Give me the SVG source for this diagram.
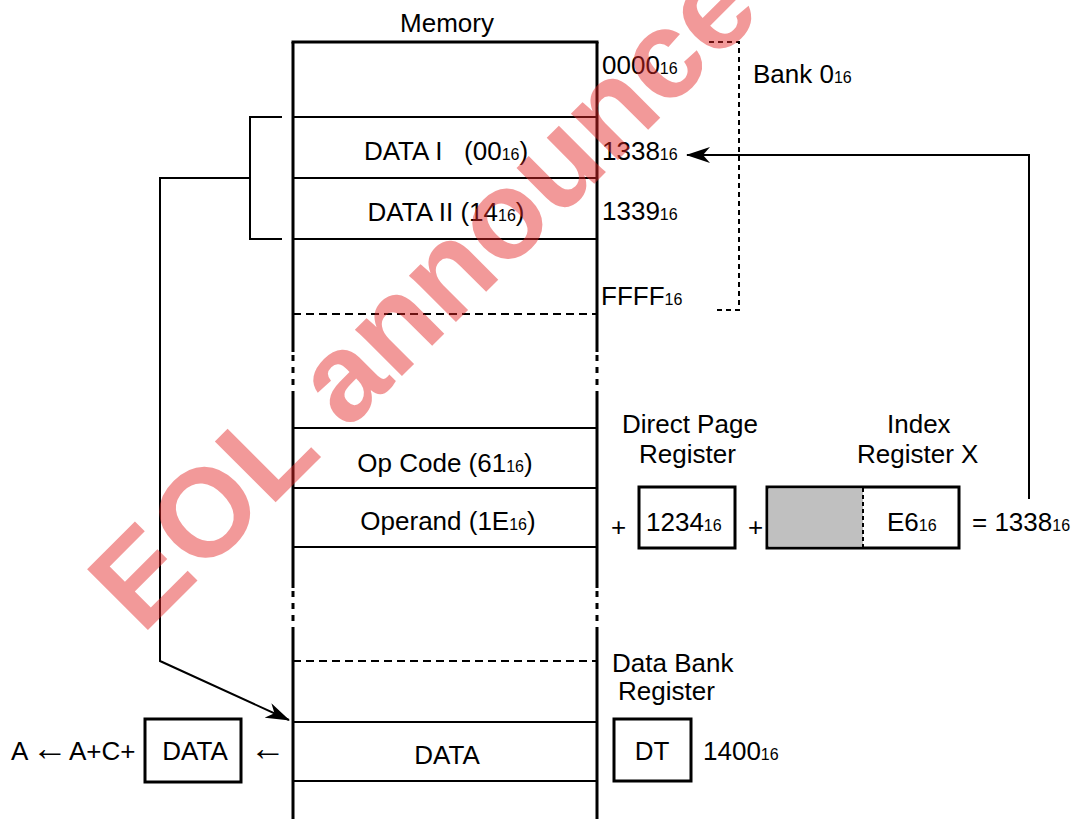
<svg xmlns="http://www.w3.org/2000/svg" width="1080" height="819" viewBox="0 0 1080 819">
<style>
text{font-family:"Liberation Sans",Arial,sans-serif;font-size:26px;fill:#000;white-space:pre}
.s{font-size:16px}
.arr{font-size:36px}
.wall{stroke:#000;stroke-width:3;fill:none}
.ln{stroke:#000;stroke-width:2;fill:none}
.dash{stroke:#000;stroke-width:2;fill:none;stroke-dasharray:8 5}
.dot{stroke:#000;stroke-width:3;fill:none;stroke-dasharray:6 6}
.box{stroke:#000;stroke-width:3;fill:#fff}
.wm{font-family:"Liberation Sans",Arial,sans-serif;font-weight:bold;font-size:125px;fill:#e52828;opacity:0.47}
</style>
<defs>
<marker id="ah" viewBox="0 0 24 16" refX="23" refY="8" markerWidth="24" markerHeight="16" markerUnits="userSpaceOnUse" orient="auto">
<path d="M0,0 L24,8 L0,16 L7,8 Z" fill="#000"/>
</marker>
</defs>
<rect width="1080" height="819" fill="#fff"/>

<g id="memory">
<text x="447" y="32" text-anchor="middle">Memory</text>
<path class="wall" d="M291.5,42 H598.5"/>
<path class="wall" d="M293,42 V352 M293,397 V588 M293,633 V819"/>
<path class="wall" d="M597,42 V352 M597,397 V588 M597,633 V819"/>
<path class="dot" d="M293,355 V397 M293,591 V633 M597,355 V397 M597,591 V633"/>
<path class="ln" d="M293,117 H597 M293,178 H597 M293,239 H597 M293,428 H597 M293,488 H597 M293,547 H597 M293,722 H597 M293,781 H597"/>
<path class="dash" d="M293,314 H597 M293,661 H597"/>
</g>

<g id="cell-data1"><text x="446" y="160" text-anchor="middle">DATA I   (00<tspan class="s">16</tspan>)</text></g>
<g id="cell-data2"><text x="446" y="221" text-anchor="middle">DATA II (14<tspan class="s">16</tspan>)</text></g>
<g id="cell-opcode"><text x="445" y="472" text-anchor="middle">Op Code (61<tspan class="s">16</tspan>)</text></g>
<g id="cell-operand"><text x="448" y="530" text-anchor="middle">Operand (1E<tspan class="s">16</tspan>)</text></g>
<g id="cell-data"><text x="447" y="764" text-anchor="middle">DATA</text></g>

<g id="addresses">
<text x="602" y="74">0000<tspan class="s">16</tspan></text>
<text x="602" y="160">1338<tspan class="s">16</tspan></text>
<text x="602" y="220">1339<tspan class="s">16</tspan></text>
<text x="601" y="305">FFFF<tspan class="s">16</tspan></text>
</g>

<g id="bank0">
<path class="ln" d="M709,42 H739 V310 H713" stroke-dasharray="5 4"/>
<text x="753" y="83">Bank 0<tspan class="s">16</tspan></text>
</g>

<g id="direct-page-register">
<text x="622" y="433">Direct Page</text>
<text x="639" y="463">Register</text>
<text x="611" y="536">+</text>
<rect class="box" x="639" y="487" width="96" height="61"/>
<text x="646" y="531">1234<tspan class="s">16</tspan></text>
</g>

<g id="index-register-x">
<text x="887" y="433">Index</text>
<text x="857" y="463">Register X</text>
<text x="748" y="536">+</text>
<rect class="box" x="767" y="487" width="192" height="61"/>
<rect x="768.5" y="488.5" width="94.5" height="58" fill="#c0c0c0"/>
<path d="M863,488 V547" stroke="#000" stroke-width="2" stroke-dasharray="4 3"/>
<text x="887" y="531">E6<tspan class="s">16</tspan></text>
<text x="972" y="531">= 1338<tspan class="s">16</tspan></text>
</g>

<g id="data-bank-register">
<text x="612" y="672">Data Bank</text>
<text x="618" y="700">Register</text>
<rect class="box" x="614" y="719" width="77" height="62"/>
<text x="652" y="760" text-anchor="middle">DT</text>
<text x="703" y="760">1400<tspan class="s">16</tspan></text>
</g>

<g id="accumulator">
<text x="11" y="760">A</text>
<text class="arr" x="32" y="760">←</text>
<text x="69" y="760">A+C+</text>
<rect class="box" x="145" y="719" width="96" height="63"/>
<text x="195" y="760" text-anchor="middle">DATA</text>
<text class="arr" x="250" y="760">←</text>
</g>

<g id="connectors">
<path class="ln" d="M282,117 H250 V239 H282"/>
<path class="ln" d="M250,178 H160 V661 L289,720" marker-end="url(#ah)"/>
<path class="ln" d="M1029,499 V155 H687" marker-end="url(#ah)"/>
</g>

<g id="watermark">
<text class="wm" transform="translate(142,636) rotate(-45)">EOL announce</text>
</g>
</svg>
